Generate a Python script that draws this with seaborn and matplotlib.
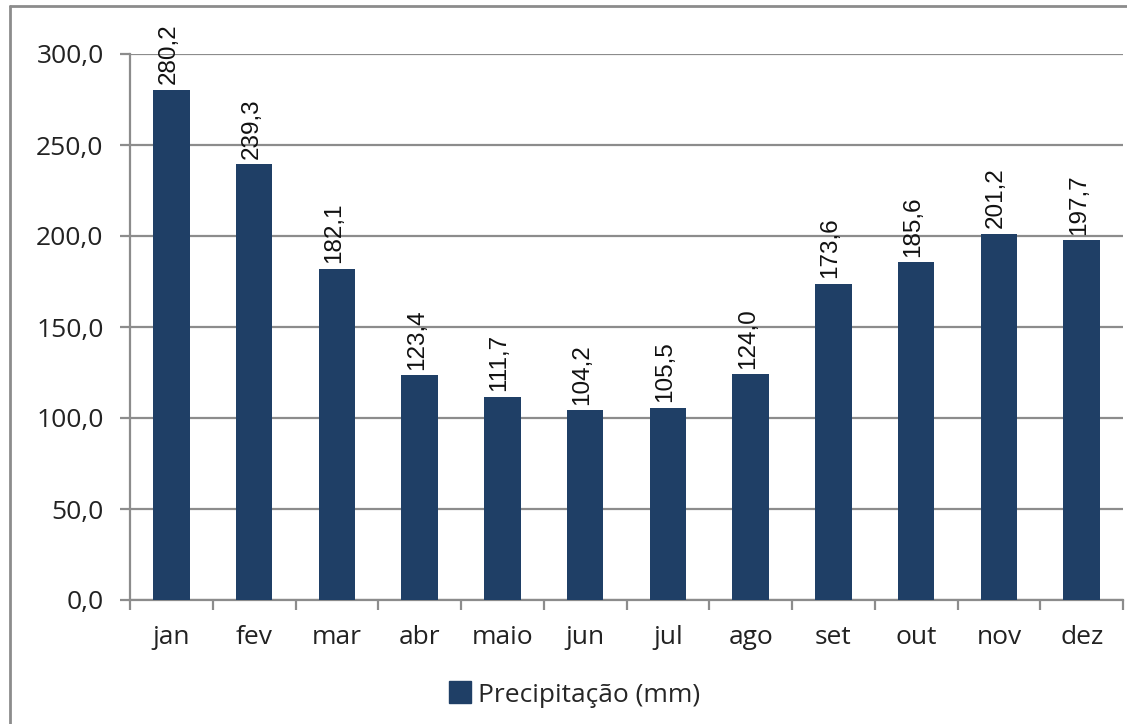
import numpy as np
import matplotlib
matplotlib.use("Agg")
import matplotlib.pyplot as plt
import seaborn as sns
from matplotlib.lines import Line2D

months = ["jan", "fev", "mar", "abr", "maio", "jun", "jul", "ago", "set", "out", "nov", "dez"]
precip = [280.2, 239.3, 182.1, 123.4, 111.7, 104.2, 105.5, 124.0, 173.6, 185.6, 201.2, 197.7]
yticks = [0, 50, 100, 150, 200, 250, 300]
series_name = "Precipitação (mm)"

sns.set_style("white")
plt.rcParams['font.family'] = ['Open Sans', 'DejaVu Sans']

BAR = "#1f3f66"
GRAY = "#8c8c8c"

fig = plt.figure(figsize=(11.27, 7.24), dpi=100)
ax = fig.add_axes([130/1127, 1-600/724, (1123-130)/1127, (600-54)/724])

sns.barplot(x=months, y=precip, color=BAR, width=0.44, saturation=1, linewidth=0,
            label=series_name, ax=ax, zorder=3)

ax.set_ylim(0, 300)
ax.set_xlim(-0.5, 11.5)
ax.set_yticks(yticks)
ax.set_yticklabels([f"{v:.1f}".replace(".", ",") for v in yticks], fontsize=19, color="#222222")
ax.yaxis.grid(True, color=GRAY, linewidth=1.6, zorder=0)
ax.set_axisbelow(True)

ax.set_xticks(np.arange(-0.5, 12, 1))
ax.set_xticklabels([""] * 13)
ax.set_xticks(np.arange(12), minor=True)
ax.set_xticklabels(months, minor=True, fontsize=19, color="#222222")
ax.tick_params(axis="x", which="major", length=7, width=1.6, color=GRAY, direction="out", bottom=True)
ax.tick_params(axis="x", which="minor", length=0, pad=18)
ax.tick_params(axis="y", length=7, width=1.6, color=GRAY, direction="out", left=True, pad=12)
ax.set_xlabel("")
ax.set_ylabel("")

for s in ["top", "right"]:
    ax.spines[s].set_visible(False)
for s in ["left", "bottom"]:
    ax.spines[s].set_color(GRAY)
    ax.spines[s].set_linewidth(1.6)

for i, v in enumerate(precip):
    ax.annotate(f"{v:.1f}".replace(".", ","), (i, v), xytext=(-2, 4), textcoords="offset points",
                rotation=90, ha="center", va="bottom", fontsize=17.5,
                family=["Liberation Sans", "DejaVu Sans"], color="#111111")

if ax.get_legend():
    ax.get_legend().remove()
handle = Line2D([], [], marker="s", linestyle="none", markersize=16, markerfacecolor=BAR,
                markeredgecolor=BAR)
fig.legend([handle], [series_name], loc="center", bbox_to_anchor=(574/1127, 1-695/724),
           frameon=False, fontsize=19, handletextpad=0.25, handlelength=0.9)

# outer border
fig.add_artist(Line2D([10/1127, 10/1127], [0, 1-6/724], transform=fig.transFigure, color=GRAY, linewidth=2))
fig.add_artist(Line2D([10/1127, 1], [1-6/724, 1-6/724], transform=fig.transFigure, color=GRAY, linewidth=2))

fig.savefig("out.png", dpi=100)
